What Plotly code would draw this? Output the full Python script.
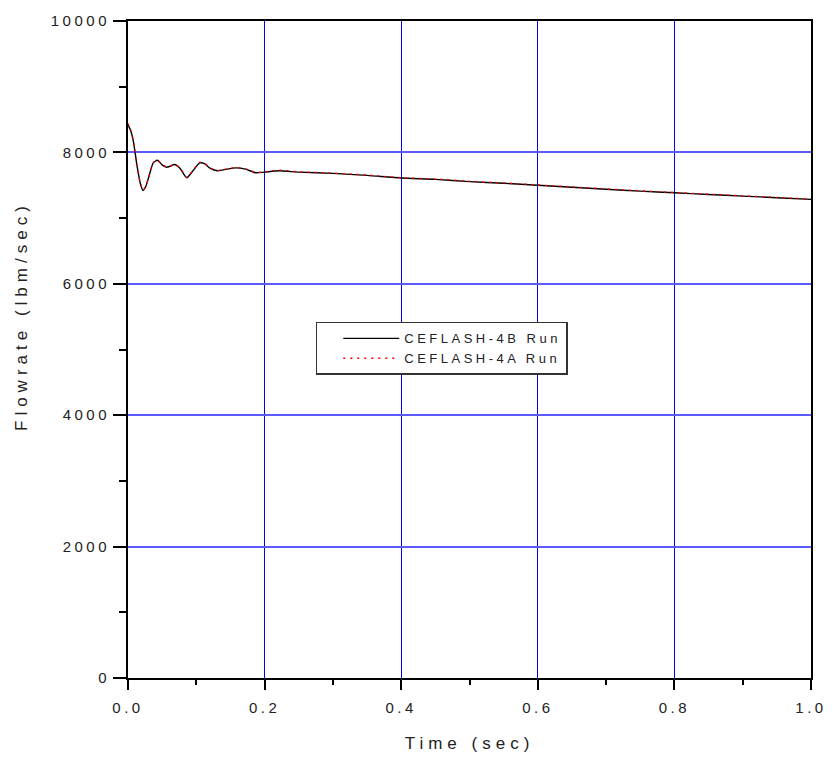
import plotly.graph_objects as go

# ---- data ----
time_4b = [0.0, 0.004, 0.008, 0.013, 0.018, 0.022, 0.026, 0.030, 0.037, 0.043,
           0.050, 0.056, 0.062, 0.068, 0.076, 0.086, 0.095, 0.105, 0.112, 0.120,
           0.131, 0.145, 0.158, 0.172, 0.187, 0.200, 0.221, 0.25, 0.30, 0.35,
           0.40, 0.45, 0.50, 0.55, 0.60, 0.65, 0.70, 0.75, 0.80, 0.85, 0.90,
           0.95, 1.0]
flow_4b = [8420, 8330, 8160, 7810, 7530, 7420, 7480, 7610, 7840, 7880,
           7810, 7775, 7790, 7815, 7760, 7615, 7720, 7840, 7830, 7760,
           7720, 7745, 7765, 7745, 7690, 7700, 7720, 7700, 7680, 7650,
           7610, 7590, 7555, 7530, 7500, 7470, 7440, 7410, 7385, 7360, 7335,
           7310, 7285]

time_4a = [0.0, 0.004, 0.008, 0.013, 0.018, 0.022, 0.026, 0.030, 0.037, 0.043,
           0.050, 0.056, 0.062, 0.068, 0.076, 0.086, 0.095, 0.105, 0.112, 0.120,
           0.131, 0.145, 0.158, 0.172, 0.187, 0.200, 0.221, 0.25, 0.30, 0.35,
           0.40, 0.45, 0.50, 0.55, 0.60, 0.65, 0.70, 0.75, 0.80, 0.85, 0.90,
           0.95, 1.0]
flow_4a = [8440, 8340, 8170, 7820, 7535, 7425, 7485, 7615, 7845, 7885,
           7815, 7780, 7795, 7820, 7765, 7620, 7725, 7850, 7835, 7765,
           7725, 7750, 7770, 7750, 7695, 7705, 7730, 7705, 7685, 7655,
           7615, 7595, 7560, 7535, 7505, 7475, 7445, 7415, 7390, 7365, 7340,
           7315, 7290]

name_4b = "CEFLASH-4B Run"
name_4a = "CEFLASH-4A Run"
x_title = "Time (sec)"
y_title = "Flowrate (lbm/sec)"
x_ticks = [0.0, 0.2, 0.4, 0.6, 0.8, 1.0]
x_tick_text = ["0.0", "0.2", "0.4", "0.6", "0.8", "1.0"]
y_ticks = [0, 2000, 4000, 6000, 8000, 10000]
y_tick_text = ["0", "2000", "4000", "6000", "8000", "10000"]

FONT = "Liberation Sans, Arial, sans-serif"
TXT = "#222"

fig = go.Figure()
fig.add_trace(go.Scatter(
    x=time_4b, y=flow_4b, mode="lines", name=name_4b,
    line=dict(color="black", width=1.4, shape="spline", smoothing=0.6)))
fig.add_trace(go.Scatter(
    x=time_4a, y=flow_4a, mode="lines", name=name_4a,
    line=dict(color="red", width=1.4, dash="2px,5px", shape="spline", smoothing=0.6)))

fig.update_layout(
    width=833, height=762,
    margin=dict(l=128, r=18, t=18, b=80),
    paper_bgcolor="white", plot_bgcolor="white",
    font=dict(family=FONT, color=TXT, size=15),
    showlegend=True,
    legend=dict(
        x=(338 - 128) / 687, y=0.542, xanchor="left", yanchor="top",
        bgcolor="white", bordercolor="#333", borderwidth=1.5,
        font=dict(size=13, family=FONT, color=TXT),
        itemwidth=56, tracegroupgap=0,
    ),
    annotations=[dict(
        text=y_title, textangle=-90, showarrow=False,
        xref="paper", yref="paper", x=0, y=0.551,
        xanchor="center", yanchor="middle", xshift=-106,
        font=dict(size=17, family=FONT, color=TXT),
    )],
)

fig.update_xaxes(
    range=[0, 1.0], tickvals=x_ticks, ticktext=x_tick_text,
    showgrid=True, gridcolor="#0000ff", gridwidth=1,
    zeroline=False, showline=True, linecolor="black", linewidth=2, mirror=True,
    ticks="outside", ticklen=10, tickwidth=2, tickcolor="black",
    minor=dict(dtick=0.1, ticks="outside", ticklen=5, tickwidth=2, tickcolor="black", showgrid=False),
    tickfont=dict(size=15, family=FONT, color=TXT),
    ticklabelstandoff=5,
    title=dict(text=x_title, font=dict(size=17, family=FONT, color=TXT), standoff=22),
)
fig.update_yaxes(
    range=[0, 10000], tickvals=y_ticks, ticktext=y_tick_text,
    showgrid=True, gridcolor="#5a5aff", gridwidth=1.5,
    zeroline=False, showline=True, linecolor="black", linewidth=2, mirror=True,
    ticks="outside", ticklen=13, tickwidth=2, tickcolor="black",
    minor=dict(dtick=1000, ticks="outside", ticklen=7, tickwidth=2, tickcolor="black", showgrid=False),
    tickfont=dict(size=15, family=FONT, color=TXT),
)

post = """
var gd = document.getElementById('{plot_id}');
(function(){
  gd.querySelectorAll('.xtick text, .ytick text').forEach(function(e){e.style.letterSpacing='3.5px';});
  gd.querySelectorAll('.g-xtitle text, .annotation-text').forEach(function(e){e.style.letterSpacing='5px';});
  var extra = 0;
  gd.querySelectorAll('.legendtext').forEach(function(e){
    var before = e.getComputedTextLength();
    e.style.letterSpacing='3.5px';
    var after = e.getComputedTextLength();
    extra = Math.max(extra, after - before);
  });
  var sb = gd.querySelector('.legend .scrollbox');
  if (sb) sb.removeAttribute('clip-path');
  var bg = gd.querySelector('.legend rect.bg');
  if (bg) {
    var x0 = parseFloat(bg.getAttribute('x') || 0);
    bg.setAttribute('x', x0 - 21);
    bg.setAttribute('width', parseFloat(bg.getAttribute('width')) + extra + 21);
  }
})();
"""

fig.write_html("out.html", post_script=post)
